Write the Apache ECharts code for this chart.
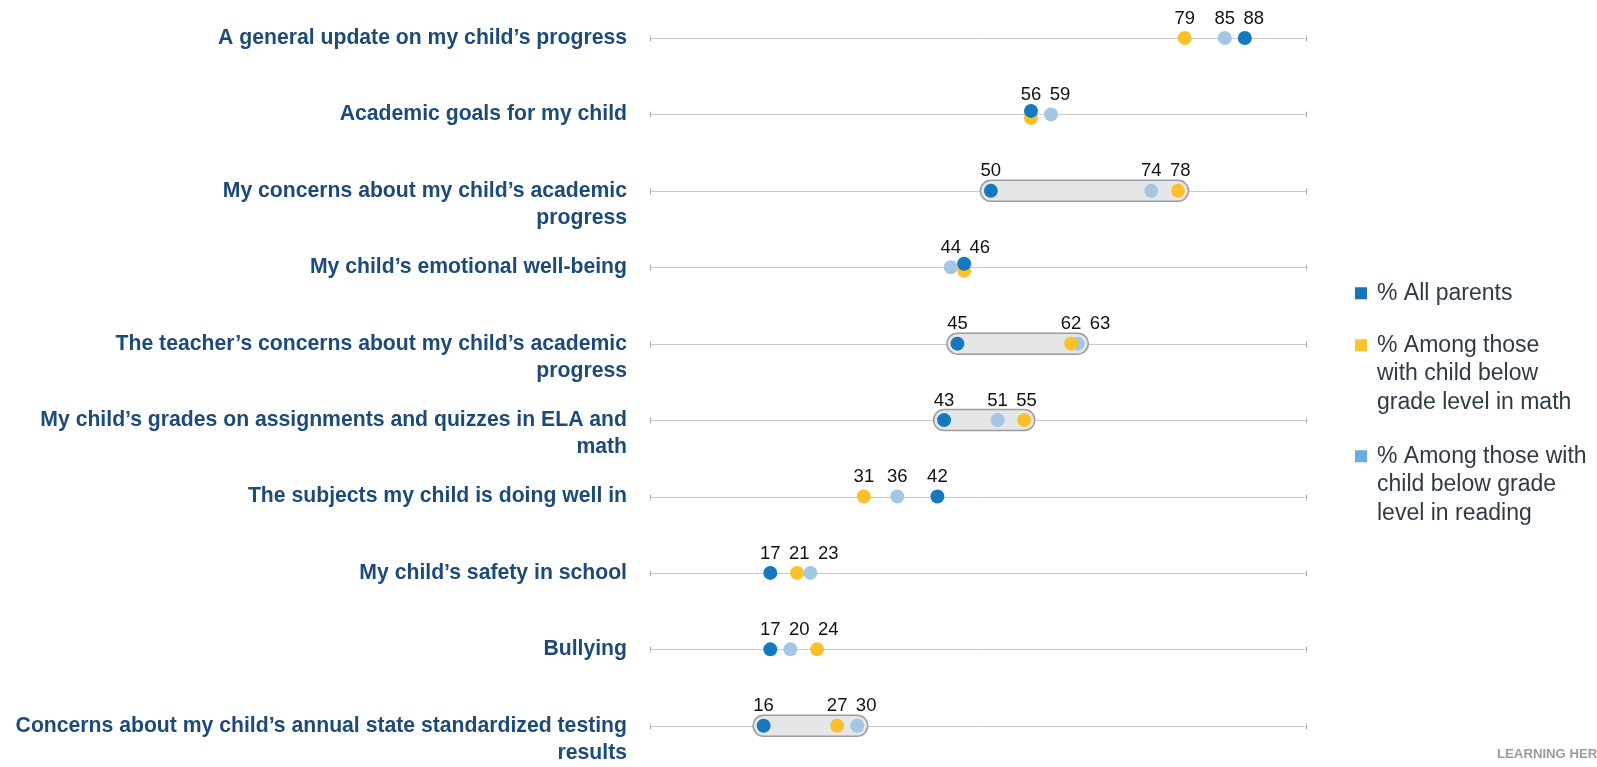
<!DOCTYPE html>
<html>
<head>
<meta charset="utf-8">
<script src="https://cdn.jsdelivr.net/npm/echarts@6/dist/echarts.min.js"></script>
<style>
html,body{margin:0;padding:0;background:#ffffff;}
#chart{width:1597px;height:767px;}
</style>
</head>
<body>
<div id="chart"></div>
<script>
// ---------------- data ----------------
const categories = [
  'A general update on my child’s progress',
  'Academic goals for my child',
  'My concerns about my child’s academic\nprogress',
  'My child’s emotional well-being',
  'The teacher’s concerns about my child’s academic\nprogress',
  'My child’s grades on assignments and quizzes in ELA and\nmath',
  'The subjects my child is doing well in',
  'My child’s safety in school',
  'Bullying',
  'Concerns about my child’s annual state standardized testing\nresults'
];
const allParents   = [88, 56, 50, 46, 45, 43, 42, 17, 17, 16];
const belowMath    = [79, 56, 78, 46, 62, 55, 31, 21, 24, 27];
const belowReading = [85, 59, 74, 44, 63, 51, 36, 23, 20, 30];
const highlighted  = [false, false, true, false, true, true, false, false, false, true];
const seriesNames = [
  '% All parents',
  '% Among those\nwith child below\ngrade level in math',
  '% Among those with\nchild below grade\nlevel in reading'
];
const sourceNote = 'LEARNING HEROES';
const xMin = -1;
const xMax = 97.3;

// ---------------- styles ----------------
const FONT = '"Liberation Sans", Arial, Helvetica, sans-serif';
const dotColors = ['#1479bf', '#fcc02c', '#a3c6e3'];
const legendColors = ['#1a73ba', '#fcc12d', '#6aabe3'];
const seriesZ = [6, 5, 4];
const legendTops = [279, 331, 442];
const valueSets = [allParents, belowMath, belowReading];
const TIE_SHIFT = 3.5;
const LABEL_MIN_GAP = 29;

function isTied(s, i) {
  if (s === 0) return belowMath[i] === allParents[i] || belowReading[i] === allParents[i];
  return valueSets[s][i] === allParents[i];
}

function scatterSeries(s, offsets) {
  const vals = valueSets[s];
  return {
    type: 'scatter',
    name: seriesNames[s],
    z: seriesZ[s],
    symbol: 'circle',
    symbolSize: 14,
    itemStyle: { color: dotColors[s], opacity: 1 },
    emphasis: { disabled: true },
    label: {
      show: true,
      position: 'top',
      distance: 3,
      fontSize: 18.5,
      fontFamily: FONT,
      color: '#111111',
      formatter: p => String(p.value[0])
    },
    data: vals.map((v, i) => {
      const tied = isTied(s, i);
      const dy = tied ? (s === 0 ? -TIE_SHIFT : TIE_SHIFT) : 0;
      const dx = offsets ? offsets[s][i] : 0;
      const item = { value: [v, i], label: { show: !(tied && s !== 0), offset: [dx, -dy] } };
      if (dy) item.symbolOffset = [0, dy];
      return item;
    })
  };
}

function buildOption(offsets) {
  const pillData = categories.map((c, i) => i).filter(i => highlighted[i]).map(i => [
    Math.min(allParents[i], belowMath[i], belowReading[i]),
    Math.max(allParents[i], belowMath[i], belowReading[i]),
    i
  ]);
  return {
    animation: false,
    backgroundColor: '#ffffff',
    textStyle: { fontFamily: FONT },
    grid: { left: 650, right: 290, top: 38, bottom: 35, containLabel: false },
    xAxis: { type: 'value', min: xMin, max: xMax, show: false },
    yAxis: {
      type: 'category',
      data: categories,
      inverse: true,
      boundaryGap: false,
      axisLine: { show: false },
      axisTick: { show: false },
      splitLine: { show: false },
      axisLabel: {
        interval: 0,
        margin: 23,
        fontSize: 21.2,
        fontWeight: 'bold',
        fontFamily: FONT,
        color: '#1c4a79',
        lineHeight: 27.5,
        align: 'right',
        formatter: v => (v.indexOf('\n') >= 0 ? '\n' + v : v)
      }
    },
    legend: seriesNames.map((n, s) => ({
      orient: 'vertical',
      left: 1355,
      top: legendTops[s],
      padding: 0,
      selectedMode: false,
      itemWidth: 17,
      itemHeight: s === 0 ? 12 : 69,
      data: [{
        name: n,
        icon: s === 0 ? 'path://M0 0L12 0L12 12L0 12Z M17 0L17 12'
                      : 'path://M0 0L12 0L12 12L0 12Z M17 0L17 69',
        itemStyle: { color: legendColors[s] }
      }],
      textStyle: { fontSize: 23, fontFamily: FONT, color: '#2e3a44', lineHeight: 28.5 }
    })),
    graphic: [{
      type: 'text',
      left: 1497,
      top: 748,
      silent: true,
      style: { text: sourceNote, fontSize: 13.2, fontWeight: 'bold', fontFamily: FONT, fill: '#9b9b9b' }
    }],
    series: [
      {
        type: 'custom',
        name: 'tracks',
        z: 1,
        silent: true,
        data: categories.map((c, i) => [xMin, xMax, i]),
        encode: { x: [0, 1], y: 2 },
        renderItem: (params, api) => {
          const a = api.coord([api.value(0), api.value(2)]);
          const b = api.coord([api.value(1), api.value(2)]);
          const y = Math.round(a[1]) + 0.5;
          return {
            type: 'group',
            children: [
              { type: 'line', shape: { x1: a[0], y1: y, x2: b[0], y2: y }, style: { stroke: '#c9c9c9', lineWidth: 1 } },
              { type: 'line', shape: { x1: Math.round(a[0]) + 0.5, y1: y - 3, x2: Math.round(a[0]) + 0.5, y2: y + 3 }, style: { stroke: '#b0b0b0', lineWidth: 1 } },
              { type: 'line', shape: { x1: Math.round(b[0]) - 0.5, y1: y - 3, x2: Math.round(b[0]) - 0.5, y2: y + 3 }, style: { stroke: '#b0b0b0', lineWidth: 1 } }
            ]
          };
        }
      },
      {
        type: 'custom',
        name: 'ranges',
        z: 2,
        silent: true,
        data: pillData,
        encode: { x: [0, 1], y: 2 },
        renderItem: (params, api) => {
          const a = api.coord([api.value(0), api.value(2)]);
          const b = api.coord([api.value(1), api.value(2)]);
          const h = 21;
          return {
            type: 'rect',
            shape: { x: a[0] - 10.5, y: a[1] - h / 2, width: b[0] - a[0] + 21, height: h, r: h / 2 },
            style: { fill: '#e5e6e8', stroke: '#9c9c9c', lineWidth: 1.5 }
          };
        }
      },
      scatterSeries(2, offsets),
      scatterSeries(1, offsets),
      scatterSeries(0, offsets)
    ]
  };
}

const chart = echarts.init(document.getElementById('chart'), null, { renderer: 'canvas' });
chart.setOption(buildOption(null));

// spread overlapping value labels within each row (push to the right)
const offsets = valueSets.map(v => v.map(() => 0));
categories.forEach((c, i) => {
  const items = [];
  valueSets.forEach((vals, s) => {
    if (s !== 0 && isTied(s, i)) return;
    items.push({ s: s, x: chart.convertToPixel({ xAxisIndex: 0 }, vals[i]) });
  });
  items.sort((a, b) => a.x - b.x);
  let last = -Infinity;
  items.forEach(it => {
    const pos = Math.max(it.x, last + LABEL_MIN_GAP);
    offsets[it.s][i] = pos - it.x;
    last = pos;
  });
});
chart.setOption(buildOption(offsets), { notMerge: true });
</script>
</body>
</html>
